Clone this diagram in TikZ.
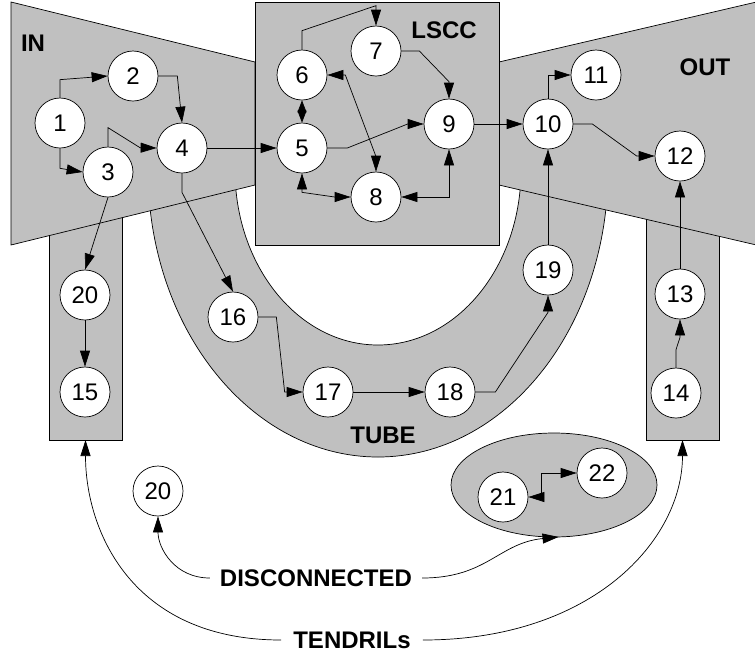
\documentclass[tikz,border=0pt]{standalone}
\usepackage{fontspec}
\setmainfont{Liberation Sans}
\usetikzlibrary{arrows.meta,shapes.geometric,calc}
\definecolor{regiongray}{HTML}{C0C0C0}
\begin{document}
\begin{tikzpicture}[x=1pt,y=-1pt,
  region/.style={draw=black, fill=regiongray, line width=0.7pt},
  vertex/.style={circle, draw=black, fill=white, line width=0.7pt,
    minimum size=50pt, inner sep=0pt, font=\fontsize{24}{28}\selectfont},
  lbl/.style={font=\fontsize{24}{28}\selectfont\bfseries, inner sep=0pt},
  tip/.tip={Triangle[length=16pt,width=10pt]},
  arr/.style={-tip, line width=0.7pt},
  biarr/.style={tip-tip, line width=0.7pt},
  shortbiarr/.style={{Triangle[length=12pt,width=9pt]}-{Triangle[length=12pt,width=9pt]}, line width=0.7pt}
]
\useasboundingbox (0,0) rectangle (755,654);
\clip (0,0) rectangle (755,654);

% TUBE: lower half of an elliptic ring
\draw[region] (148,170) arc[start angle=180, end angle=0, x radius=230, y radius=287]
  -- (521,170) arc[start angle=0, end angle=180, x radius=143, y radius=175] -- cycle;

% tendril columns
\node[region, rectangle, minimum width=73pt, minimum height=225pt, inner sep=0pt, outer sep=0pt] (tl) at (85.5,327.5) {};
\node[region, rectangle, minimum width=73pt, minimum height=225pt, inner sep=0pt, outer sep=0pt] (tr) at (682.5,327.5) {};

% IN and OUT funnels, LSCC core
\draw[region] (11,2) -- (255,62) -- (255,185) -- (11,245) -- cycle;
\draw[region] (499,62) -- (765,0) -- (765,247) -- (499,185) -- cycle;
\draw[region] (255,2) rectangle (499,245);

% disconnected component
\node[region, ellipse, minimum width=206pt, minimum height=104pt, inner sep=0pt, outer sep=0pt] (dgrp) at (554,485) {};

% region labels
\node[lbl] (lin) at (33,43) {IN};
\node[lbl] (llscc) at (444,30) {LSCC};
\node[lbl] (lout) at (705,67) {OUT};
\node[lbl] (ltube) at (383,435) {TUBE};
\node[lbl, inner xsep=10pt] (disc) at (316,578) {DISCONNECTED};
\node[lbl, inner xsep=12pt] (tend) at (352,640) {TENDRILs};

% vertices
\node[vertex] (n1) at (60,123) {1};
\node[vertex] (n2) at (133,76) {2};
\node[vertex] (n3) at (108,172) {3};
\node[vertex] (n4) at (182,148) {4};
\node[vertex] (n5) at (302,148) {5};
\node[vertex] (n6) at (302,75) {6};
\node[vertex] (n7) at (376,51) {7};
\node[vertex] (n8) at (376,197) {8};
\node[vertex] (n9) at (449,124) {9};
\node[vertex] (n10) at (548,124) {10};
\node[vertex] (n11) at (596,75) {11};
\node[vertex] (n12) at (680,156) {12};
\node[vertex] (n13) at (680,294) {13};
\node[vertex] (n14) at (676,393) {14};
\node[vertex] (n15) at (85,392) {15};
\node[vertex] (n16) at (233,317) {16};
\node[vertex] (n17) at (328,392) {17};
\node[vertex] (n18) at (450,392) {18};
\node[vertex] (n19) at (548,270) {19};
\node[vertex] (n20) at (85,295) {20};
\node[vertex] (n20b) at (158,491) {20};
\node[vertex] (n21) at (503,497) {21};
\node[vertex] (n22) at (602,473) {22};

% IN edges
\draw[arr] (n1.north) -- ++(0,-18) -- (n2.west);
\draw[arr] (n1.south) -- ++(0,20) -- (n3.west);
\draw[arr] (n2.east) -- ++(19,0) -- (n4.north);
\draw[arr] (n3.north) -- ++(0,-19) -- ++(32,20) -- (n4.west);
\draw[arr] (n4) -- (n5);
\draw[arr] (n4.south) -- ++(0,19) -- (n16.north);
\draw[arr] (n3.south) -- (n20.north);
\draw[arr] (n20) -- (n15);

% LSCC edges
\draw[shortbiarr] (n5.north) -- (n6.south);
\draw[arr] (n6.north) -- ++(0,-19) -- ($(n7.north)+(0,-20)$) -- (n7.north);
\draw[arr] (n7.east) -- ++(18,0) -- ($(n9.north)+(0,-17)$) -- (n9.north);
\draw[biarr] (n6.east) -- ++(18,0) -- ($(n8.north)+(0,-15)$) -- (n8.north);
\draw[biarr] (n5.south) -- ++(0,19) -- ($(n8.west)+(-16,0)$) -- (n8.west);
\draw[biarr] (n8.east) -| (n9.south);
\draw[arr] (n5.east) -- ++(20,0) -- ($(n9.west)+(-16,0)$) -- (n9.west);
\draw[arr] (n9) -- (n10);

% OUT edges
\draw[arr] (n10.north) |- (n11.west);
\draw[arr] (n10.east) -- ++(19,0) -- ($(n12.west)+(-18,0)$) -- (n12.west);
\draw[arr] (n13) -- (n12);
\draw[arr] (n14.north) -- ++(0,-18) -- ($(n13.south)+(0,18)$) -- (n13.south);

% TUBE edges
\draw[arr] (n16.east) -- ++(18,0) -- ($(n17.west)+(-18,0)$) -- (n17.west);
\draw[arr] (n17) -- (n18);
\draw[arr] (n18.east) -- ++(20,0) -- ($(n19.south)+(0,17)$) -- (n19.south);
\draw[arr] (n19) -- (n10);

% disconnected pair
\draw[biarr] (n21.east) -- ++(13,0) |- (n22.west);

% annotation curves
\draw[arr] (disc.west) .. controls +(-35,0) and +(0,32) .. (n20b.south);
\draw[arr] (disc.east) .. controls +(65,0) and +(-60,6) .. (dgrp.-85);
\draw[arr] (tend.west) .. controls +(-150,0) and +(0,90) .. (tl.south);
\draw[arr] (tend.east) .. controls +(170,0) and +(0,100) .. (tr.south);
\end{tikzpicture}
\end{document}
